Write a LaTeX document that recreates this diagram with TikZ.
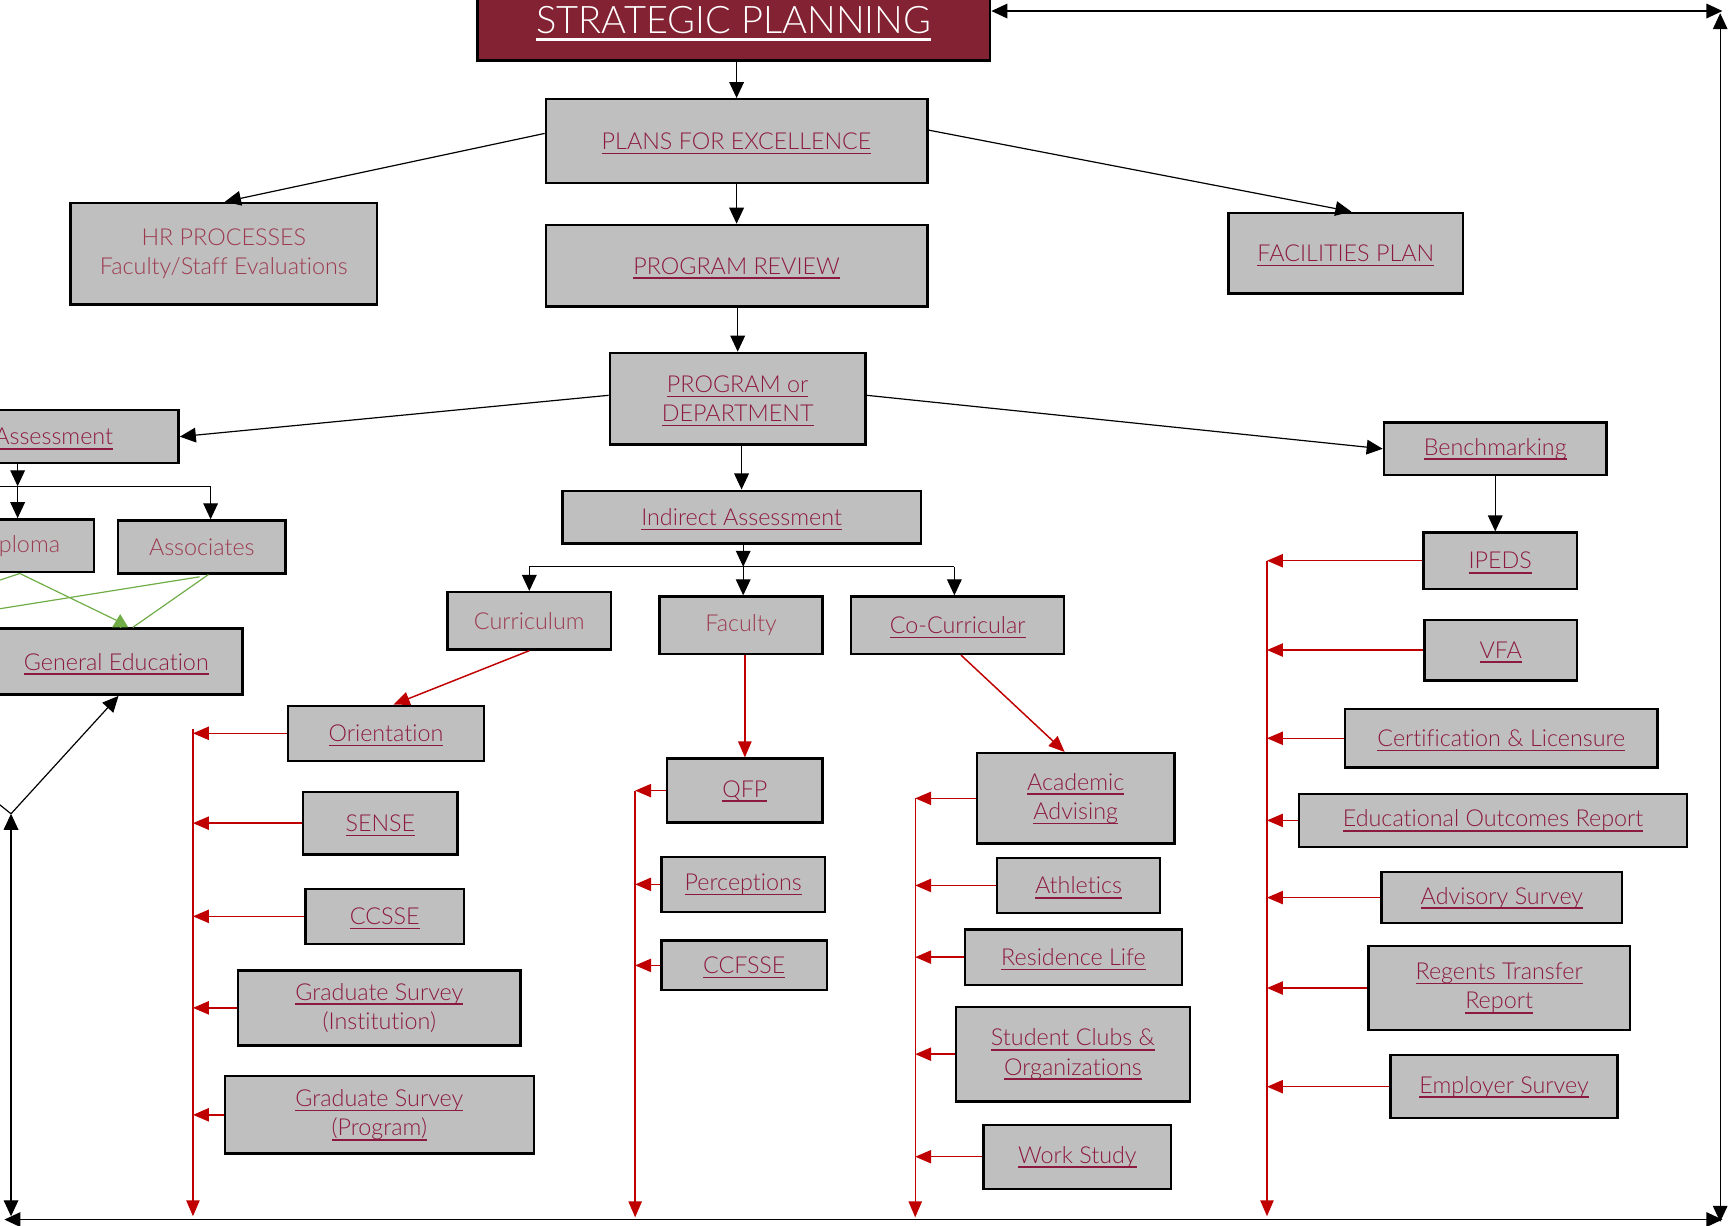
\documentclass[tikz,border=0pt]{standalone}
\usepackage{fontspec}
\IfFontExistsTF{Lato Light}{\setmainfont{Lato Light}[Ligatures=NoCommon]}{\setmainfont{Lato}[Ligatures=NoCommon]}
\usetikzlibrary{arrows.meta,calc}
\definecolor{spred}{HTML}{832232}
\definecolor{linkc}{HTML}{8C1A3E}
\definecolor{plainc}{HTML}{9C3A4F}
\definecolor{boxgray}{HTML}{BFBFBF}
\definecolor{arrred}{HTML}{C00000}
\definecolor{arrgreen}{HTML}{70AD47}
\newcommand\lnk[1]{\leavevmode\setbox0\hbox{#1}\rlap{\copy0}\smash{\rule[-3.6pt]{\wd0}{1.2pt}}}
\newcommand\lnkbig[1]{\leavevmode\setbox0\hbox{#1}\rlap{\copy0}\smash{\rule[-5pt]{\wd0}{1.6pt}}}
\newcommand\mkbox[7]{%
  \pgfmathsetmacro\mkbw{(#5-#3)*0.827}%
  \pgfmathsetmacro\mkbh{(#6-#4)*0.827}%
  \node[#1, minimum width=\mkbw pt, minimum height=\mkbh pt] (#2) at ({(#3+#5)/2},{(#4+#6)/2}) {#7};}
\tikzset{
  box/.style={draw=black, line width=1.8pt, fill=boxgray, inner sep=0pt, text=linkc, align=center, font=\fontsize{17.5}{22}\selectfont},
  plain/.style={box, text=plainc},
  titlebox/.style={draw=black, line width=1.8pt, fill=spred, inner sep=0pt, text=white, align=center, font=\fontsize{28.5}{34}\selectfont},
  arr/.style={-{Triangle[length=12pt,width=11pt]}, line width=0.9pt, draw=black},
  darr/.style={{Triangle[length=12pt,width=11pt]}-{Triangle[length=12pt,width=11pt]}, line width=0.9pt, draw=black},
  rarr/.style={-{Triangle[length=12pt,width=10pt]}, line width=1.1pt, draw=arrred},
  gline/.style={draw=arrgreen, line width=0.9pt},
  garr/.style={-{Triangle[length=10pt,width=12pt]}, draw=arrgreen, line width=0.9pt},
}
\begin{document}
\begin{tikzpicture}[x=0.827pt, y=-0.827pt]
\useasboundingbox (0,0) rectangle (1568,1111);
\clip (0,0) rectangle (1568,1111);

% boxes
\mkbox{titlebox}{SP}{433}{-18}{898}{55}{\lnkbig{STRATEGIC PLANNING}}
\mkbox{box}{PFE}{495}{90}{841}{166}{\lnk{PLANS FOR EXCELLENCE}}
\mkbox{plain}{HR}{64}{184}{342}{276}{HR PROCESSES\\Faculty/Staff Evaluations}
\mkbox{box}{PR}{495}{204}{841}{278}{\lnk{PROGRAM REVIEW}}
\mkbox{box}{FAC}{1114}{193}{1327}{266}{\lnk{FACILITIES PLAN}}
\mkbox{box}{PD}{553}{320}{785}{403}{\lnk{PROGRAM or}\\\lnk{DEPARTMENT}}
\mkbox{box}{DA}{-126}{372}{162}{420}{\phantom{Direct }\lnk{Assessment}}
\mkbox{plain}{DIP}{-52}{471}{85}{519}{\phantom{Di}ploma}
\mkbox{plain}{ASC}{107}{472}{259}{520}{Associates}
\mkbox{box}{GE}{-9}{570}{220}{630}{\lnk{General Education}}
\mkbox{box}{IA}{510}{445}{835}{493}{\lnk{Indirect Assessment}}
\mkbox{box}{BM}{1255}{383}{1457}{431}{\lnk{Benchmarking}}
\mkbox{plain}{CUR}{406}{537}{554}{589}{Curriculum}
\mkbox{plain}{FACU}{598}{541}{746}{593}{Faculty}
\mkbox{box}{COC}{772}{541}{965}{593}{\lnk{Co-Curricular}}
\mkbox{box}{ORI}{261}{640}{439}{690}{\lnk{Orientation}}
\mkbox{box}{SEN}{275}{718}{415}{775}{\lnk{SENSE}}
\mkbox{box}{CCS}{277}{806}{421}{856}{\lnk{CCSSE}}
\mkbox{box}{GSI}{216}{880}{472}{948}{\lnk{Graduate Survey}\\(Institution)}
\mkbox{box}{GSP}{204}{976}{484}{1046}{\lnk{Graduate Survey}\\\lnk{(Program)}}
\mkbox{box}{QFP}{605}{688}{746}{746}{\lnk{QFP}}
\mkbox{box}{PER}{600}{777}{748}{827}{\lnk{Perceptions}}
\mkbox{box}{CCF}{600}{853}{750}{898}{\lnk{CCFSSE}}
\mkbox{box}{AA}{886}{683}{1065}{765}{\lnk{Academic}\\\lnk{Advising}}
\mkbox{box}{ATH}{904}{778}{1052}{828}{\lnk{Athletics}}
\mkbox{box}{RES}{875}{843}{1072}{893}{\lnk{Residence Life}}
\mkbox{box}{SCO}{867}{913}{1079}{999}{\lnk{Student Clubs \&}\\\lnk{Organizations}}
\mkbox{box}{WS}{892}{1020}{1062}{1078}{\lnk{Work Study}}
\mkbox{box}{IPE}{1291}{483}{1430}{534}{\lnk{IPEDS}}
\mkbox{box}{VFA}{1292}{562}{1430}{617}{\lnk{VFA}}
\mkbox{box}{CL}{1220}{643}{1503}{696}{\lnk{Certification \& Licensure}}
\mkbox{box}{EOR}{1178}{720}{1530}{768}{\lnk{Educational Outcomes Report}}
\mkbox{box}{ADV}{1253}{791}{1471}{837}{\lnk{Advisory Survey}}
\mkbox{box}{RTR}{1241}{858}{1478}{934}{\lnk{Regents Transfer}\\\lnk{Report}}
\mkbox{box}{EMP}{1261}{957}{1467}{1014}{\lnk{Employer Survey}}

% coordinates
\coordinate (tr) at (1562,10);
\coordinate (rt) at (1560,12);
\coordinate (rb) at (1560,1108);
\coordinate (bl) at (4,1106);
\coordinate (br) at (1562,1106);
\coordinate (lb) at (10,1103);
\coordinate (apex) at (10,738);
\coordinate (apexoff) at (-20,714);
\coordinate (ij) at (674,514);
\coordinate (aj) at (16,441);
\coordinate (ajl) at (-30,441);
\coordinate (ajr) at (191,441);
\coordinate (dipoff) at (-60,546);
\coordinate (ascoff) at (-100,568);
\coordinate (b1t) at (175,661);
\coordinate (b1b) at (175,1103);
\coordinate (b2t) at (576,717);
\coordinate (b2b) at (576,1104);
\coordinate (b3t) at (830,724);
\coordinate (b3b) at (830,1104);
\coordinate (b4t) at (1149,508.5);
\coordinate (b4b) at (1149,1103);

% frame
\draw[darr] (tr -| SP.east) -- (tr);
\draw[darr] (rb) -- (rt);
\draw[darr] (bl) -- (br);
\draw[darr] (lb) -- (apex);
\draw[arr] (apex) -- ($(GE.south)+(2,0)$);
\draw[line width=0.9pt] (apex) -- (apexoff);

% main tree
\draw[arr] (PFE.north |- SP.south) -- (PFE.north);
\draw[arr] ($(PFE.west)+(0,-7)$) -- ($(HR.north)+(1,0)$);
\draw[arr] (PR.north |- PFE.south) -- (PR.north);
\draw[arr] ($(PFE.east)+(0,-10)$) -- ($(FAC.north)+(5,0)$);
\draw[arr] (PD.north |- PR.south) -- (PD.north);
\draw[arr] ($(PD.west)+(0,-3)$) -- (DA.east);
\draw[arr] ($(PD.east)+(0,-3)$) -- (BM.west);
\draw[arr] (IA.north |- PD.south) -- (IA.north);
\draw[arr] (ij |- IA.south) -- (ij);
\draw[line width=0.9pt] (CUR.north |- ij) -- ($(COC.north |- ij)+(-3,0)$);
\draw[arr] (CUR.north |- ij) -- (CUR.north);
\draw[arr] (ij) -- (ij |- FACU.north);
\draw[arr] ($(COC.north |- ij)+(-3,0)$) -- ($(COC.north)+(-3,0)$);
\draw[arr] (BM.south) -- (BM.south |- IPE.north);

% assessment branch
\draw[arr] (aj |- DA.south) -- (aj);
\draw[line width=0.9pt] (ajl) -- (ajr);
\draw[arr] (aj) -- (aj |- DIP.north);
\draw[arr] (ajr) -- (ajr |- ASC.north);

% green
\draw[gline] ($(DIP.south)+(1.5,0)$) -- ($(GE.north)+(7,-3)$);
\draw[gline] ($(DIP.south)+(1.5,0)$) -- (dipoff);
\draw[gline] ($(ASC.south)+(6,0)$) -- ($(GE.north)+(15,0)$);
\draw[gline] ($(ASC.south)+(-2,2)$) -- (ascoff);
\draw[garr] ($(GE.north)+(3.5,0)$) -- ++(0,-12);

% red
\draw[rarr] (CUR.south) -- ($(ORI.north)+(7,0)$);
\draw[rarr] (QFP.north |- FACU.south) -- (QFP.north);
\draw[rarr] ($(COC.south)+(3,0)$) -- ($(AA.north)+(-10,0)$);

\draw[rarr] (b1t) -- (b1b);
\foreach \n in {ORI,SEN,CCS,GSI,GSP} \draw[rarr] (\n.west) -- (\n.west -| b1t);
\draw[rarr] (b2t) -- (b2b);
\foreach \n in {QFP,PER,CCF} \draw[rarr] (\n.west) -- (\n.west -| b2t);
\draw[rarr] (b3t) -- (b3b);
\foreach \n in {AA,ATH,RES,SCO,WS} \draw[rarr] (\n.west) -- (\n.west -| b3t);
\draw[rarr] (b4t) -- (b4b);
\foreach \n in {IPE,VFA,CL,EOR,ADV,RTR,EMP} \draw[rarr] (\n.west) -- (\n.west -| b4t);
\end{tikzpicture}
\end{document}
